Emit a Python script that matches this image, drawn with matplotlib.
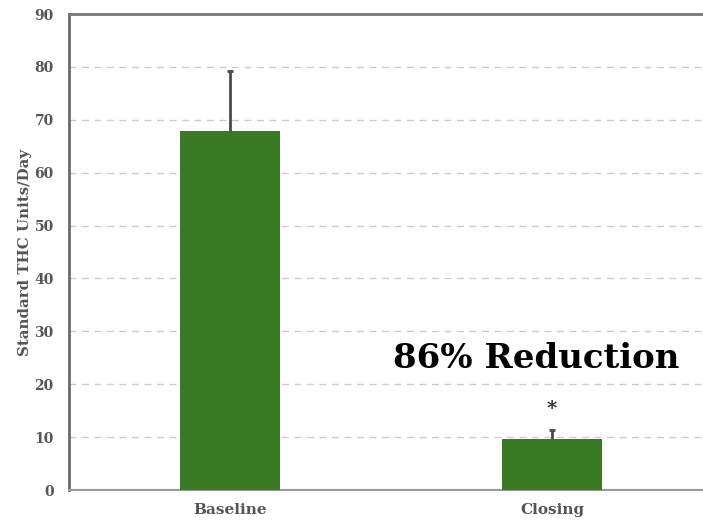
import matplotlib
matplotlib.use('Agg')
import matplotlib.pyplot as plt

# data
categories = ['Baseline', 'Closing']
values = [67.9, 9.6]
err_upper = [11.4, 1.7]
yticks = [0, 10, 20, 30, 40, 50, 60, 70, 80, 90]

bar_color = '#3b7a25'
text_gray = '#555555'
err_color = '#4a4a4a'

plt.rcParams['font.family'] = ['DejaVu Serif']

fig = plt.figure(figsize=(7.03, 5.21), dpi=100)
ax = fig.add_axes([0.0982, 0.0595, 0.916, 0.9136])

x = list(range(len(categories)))
ax.bar(x, values, width=0.31, color=bar_color, zorder=3)

# upper-only error bars with a small cap
tops = [v + e for v, e in zip(values, err_upper)]
ax.vlines(x, values, tops, color=err_color, linewidth=2, zorder=4)
ax.plot(x, tops, linestyle='none', marker='_', markersize=5, markeredgewidth=2,
        color=err_color, zorder=4)

ax.set_xlim(-0.5, 1.5)
ax.set_ylim(0, 90)
ax.set_yticks(yticks)
ax.set_xticks(x)
ax.set_xticklabels(categories, fontsize=11, fontweight='bold', color=text_gray)
ax.tick_params(axis='both', length=0)
ax.tick_params(axis='y', pad=11, labelsize=10, labelcolor=text_gray)
ax.tick_params(axis='x', pad=9)
for lbl in ax.get_yticklabels():
    lbl.set_fontweight('bold')

ax.set_ylabel('Standard THC Units/Day', fontsize=10.8, fontweight='bold',
              color=text_gray, labelpad=2)

ax.yaxis.grid(True, linestyle=(0, (5, 4)), color='#cccccc', linewidth=1, zorder=0)
ax.set_axisbelow(True)

ax.spines['right'].set_visible(False)
ax.spines['left'].set_color('#6a6a6a')
ax.spines['left'].set_linewidth(2)
ax.spines['top'].set_color('#777777')
ax.spines['top'].set_linewidth(2)
ax.spines['bottom'].set_color('#9a9a9a')
ax.spines['bottom'].set_linewidth(1.5)

# significance marker and annotation
ax.text(1, 15.3, '*', ha='center', va='center', fontsize=14, fontweight='bold', color='#222222')
ax.text(0.506, 24.8, '86% Reduction', ha='left', va='center', fontsize=24.5,
        fontweight='bold', color='black')

fig.savefig('out.png', dpi=100)
